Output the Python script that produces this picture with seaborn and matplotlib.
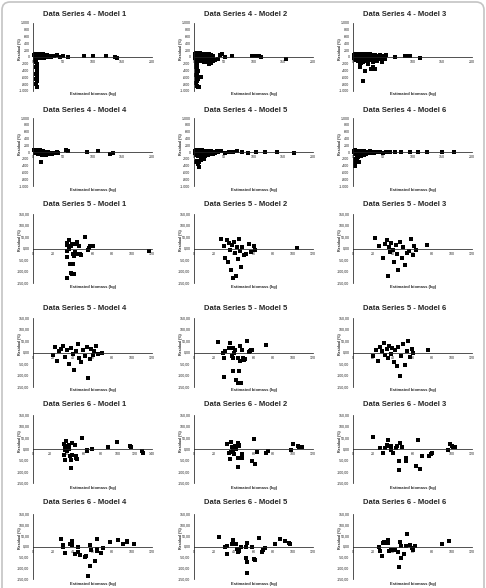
import matplotlib
matplotlib.use('Agg')
import matplotlib.pyplot as plt
import seaborn as sns
import pandas as pd
from matplotlib.patches import FancyBboxPatch
from matplotlib.transforms import IdentityTransform

# residuals: (estimated biomass kg, residual %)
s4m1 = [(2, 60), (3, 20), (3, -40), (4, 80), (4, -10), (5, 40), (5, 100), (5, -60), (6, 10), (6, 70),
        (6, -30), (7, 90), (7, 0), (7, 50), (8, 30), (8, -20), (8, 80), (9, 60), (9, 10), (10, 40),
        (10, 90), (11, -10), (11, 70), (12, 20), (12, 50), (13, 30), (14, 80), (15, 10), (16, 40), (17, 60),
        (18, 20), (19, 50), (20, 30), (22, 10), (24, 40), (26, 20), (28, 30), (30, 10), (12, -40), (15, -30),
        (18, -20), (20, -10), (4, -100), (5, -150), (6, -200), (7, -250), (5, -300), (6, -350), (7, -400),
        (6, -450), (5, -500), (6, -550), (7, -600), (6, -480), (5, -650), (6, -700), (5, -800), (6, -880),
        (3, 90), (4, 30), (9, -40), (10, 0), (13, 60), (14, 0), (16, 80), (21, 60), (23, 70), (25, 0),
        (35, 30), (40, 60), (45, 10), (50, 20), (58, 10), (85, 20), (100, 30), (122, 20), (138, -10), (142, -30)]
s4m2 = [(1, 50), (2, 90), (2, -20), (3, 40), (3, 110), (4, -50), (4, 70), (5, 20), (5, 100), (6, -80),
        (6, 50), (7, 0), (7, 90), (8, -40), (8, 60), (9, 20), (9, 100), (10, -60), (10, 40), (11, 80),
        (12, 0), (12, 60), (13, -30), (13, 90), (14, 30), (15, -70), (15, 70), (16, 10), (17, 50), (18, -20),
        (18, 90), (19, 40), (20, -50), (20, 70), (21, 10), (22, 60), (23, -10), (24, 40), (25, 80), (26, 20),
        (27, 50), (28, 0), (30, 30), (32, 20), (14, -120), (17, -100), (20, -130), (22, -150), (24, -100),
        (26, -200), (28, -180), (32, -120), (16, -160), (3, -120), (4, -180), (5, -240), (4, -300), (5, -360),
        (6, -420), (5, -480), (4, -540), (5, -600), (6, -650), (5, -700), (4, -760), (11, -600), (9, -580),
        (5, -850), (8, -870), (6, -880), (2, 20), (3, -60), (4, 0), (6, 100), (7, -110), (8, 10), (9, -90),
        (10, 110), (11, -20), (11, -100), (12, -80), (13, 40), (14, -40), (16, 90), (17, -50), (19, -90),
        (21, 90), (22, -60), (24, -30), (25, 40), (27, -80), (29, 60), (30, -60), (31, 0),
        (36, -100), (41, -50), (44, 50), (47, 100), (52, 0), (64, 20),
        (98, 30), (102, 40), (106, 30), (110, 30), (112, 10), (155, -50)]
s4m3 = [(1, 40), (2, -30), (3, 80), (4, 10), (5, -80), (5, 60), (6, -20), (7, 90), (8, 30), (8, -120),
        (9, -50), (10, 70), (11, 0), (12, -100), (12, 50), (13, -30), (14, 90), (15, 20), (16, -150), (16, 60),
        (17, -60), (18, 10), (19, 80), (20, -90), (20, 40), (21, -20), (22, 70), (23, -130), (24, 0), (25, 50),
        (26, -70), (27, 30), (28, -10), (29, 80), (30, -100), (31, 20), (32, -40), (33, 60), (34, -150),
        (35, 10), (36, -60), (38, 40), (39, -20), (40, -110), (42, 20), (44, -50), (46, 0), (48, 30),
        (50, -30), (11, -200), (14, -180), (25, -200), (2, 70), (4, -60), (6, 50), (9, 100), (10, -10),
        (13, 60), (15, -60), (18, -100), (19, 30), (22, -50), (24, 80), (27, -30), (30, 50), (33, -80),
        (37, 70), (41, 0), (45, 50),
        (11, -300), (17, -700), (20, -400), (31, -350),
        (34, -300), (37, -350), (48, -150), (54, -50), (56, 50), (70, 0), (87, 20), (92, 20), (95, 20),
        (113, -20)]
s4m4 = [(2, 60), (3, 20), (4, -40), (5, 70), (6, 0), (7, 40), (8, -70), (9, 30), (10, -20), (11, 60),
        (12, -50), (13, 10), (15, -80), (16, -30), (17, 40), (18, -60), (20, -40), (21, 10), (22, -90),
        (24, -60), (25, 0), (26, -40), (28, -50), (30, -30), (32, -60), (34, -20), (36, -40), (38, -30),
        (40, -10), (42, -20), (14, -300), (56, 50), (59, 20), (90, 0), (110, 30), (130, -50), (135, -20)]
s4m5 = [(1, 30), (2, -20), (3, 60), (4, -80), (5, 20), (6, -40), (6, 70), (7, -120), (8, 10), (9, -60),
        (10, 40), (11, -160), (12, -20), (13, 50), (14, -90), (15, 0), (16, -200), (17, 30), (18, -50),
        (19, -130), (20, 20), (21, -80), (22, 40), (23, -30), (24, -100), (25, 10), (26, -60), (28, 30),
        (30, -20), (32, -70), (34, 10), (36, -40), (38, 20), (40, -10), (5, -250), (4, -300), (8, -280),
        (6, -350), (9, -450), (12, -240), (45, 20), (52, -30), (58, 10), (65, -10), (72, 20), (80, 0),
        (90, -20), (105, 10), (120, -10), (140, 0), (168, -20)]
s4m6 = [(1, 40), (2, -10), (3, 50), (4, -60), (5, 20), (6, -100), (7, 30), (8, -40), (9, -150), (10, 10),
        (11, -70), (12, 40), (13, -20), (14, -120), (15, 20), (16, -60), (17, 0), (18, -90), (19, 30),
        (20, -30), (22, -60), (24, 10), (26, -40), (28, 20), (30, -20), (32, 10), (35, -30), (38, 0),
        (40, -10), (3, -200), (4, -250), (5, -300), (4, -350), (3, -400), (7, -220), (10, -280), (45, 10),
        (50, -20), (55, 0), (62, 10), (70, -10), (80, 0), (95, 10), (110, -10), (125, 0), (150, -10), (170, 0)]

s5m1 = [(34, 26), (36, 38), (34, 15), (38, 12), (39, 19), (34, -10), (36, -3), (34, -39), (37, -68),
        (40, -25), (41, -32), (42, -17), (43, 19), (40, -68), (38, -105), (39, -112), (41, -112), (34, -127),
        (44, 29), (46, 12), (45, -25), (47, -25), (48, -29), (52, 52), (55, -6), (56, 4), (57, 9), (61, 12),
        (117, -10)]
s5m2 = [(27, 40), (30, 10), (33, 35), (35, 22), (36, -5), (38, 15), (40, 30), (41, -20), (43, 8), (45, 40),
        (34, -60), (37, -95), (39, -130), (42, -120), (44, -45), (46, -10), (48, 5), (50, -30), (52, -25),
        (55, 20), (57, -15), (60, 12), (62, -5), (104, 2), (31, -40), (47, -80)]
s5m3 = [(22, 45), (26, 10), (30, -40), (32, 20), (34, 35), (36, 5), (37, -15), (38, 25), (40, -5),
        (41, -60), (43, 15), (44, -25), (45, -95), (47, 30), (49, -40), (50, 5), (52, -70), (54, -20),
        (56, -10), (58, 40), (60, -30), (62, 10), (64, -5), (75, 15), (35, -120)]
s5m4 = [(20, -10), (22, 25), (24, -35), (26, 5), (28, 15), (30, 30), (32, -20), (34, 10), (36, -50),
        (38, 20), (40, -5), (41, -75), (43, 5), (45, 35), (46, -25), (48, -40), (50, 10), (52, -15),
        (54, 25), (55, -110), (57, -30), (58, 15), (60, -10), (62, 5), (64, 30), (66, -5), (70, 0)]
s5m5 = [(24.5, 44), (29.7, 0), (31, 7), (30.7, -23), (34.8, 19), (36, 40), (37.5, 19), (39, 18), (38, -16),
        (39, -22), (41, 10), (40, -4), (39, -80), (42, -121), (44, -133), (47, -133), (45, -82), (44, -26),
        (46, -38), (46, 28), (48, 10), (49, -26), (50, -34), (51, -29), (53.5, 51), (55, 1), (56, 7),
        (57, 13), (58.6, 13), (30.7, -107), (73, 32)]
s5m6 = [(20, -15), (23, 10), (25, -35), (27, 25), (29, 5), (31, 40), (32, -10), (34, 15), (35, -25),
        (36, 30), (38, -5), (39, 20), (41, -40), (42, 10), (44, -60), (45, 25), (47, -100), (48, -15),
        (50, 35), (52, -55), (54, 5), (55, 50), (57, -20), (59, 15), (61, 0), (76, 10)]

s6m1 = [(37, 23), (39, 34), (38, 12), (40, 15), (42, 19), (38, -3), (40, -7), (42, 0), (37, -25), (38, -47),
        (44, -32), (45, -50), (45, -83), (46, -25), (46, 26), (49, 19), (50, -32), (51, -40), (52, -44),
        (58, 48), (63, -10), (64, -3), (69, 0), (88, 7), (99, 29), (114, 12), (115, 7), (128, -7), (129, -18)]
s6m2 = [(33.6, 23), (37, 33), (38, 11), (40, 9), (41.5, 14), (42, 0), (37, -14), (35, -17), (36, -43),
        (39.4, -3), (40, -20), (44, 28), (45, 18), (45.7, 14), (44, -38), (44, -78), (48, -24), (48, -38),
        (58, -53), (60, 43), (62, -67), (63.7, -14), (72.7, -17), (75, -11), (98, -3), (100, 23),
        (104.5, 14), (106, 11), (108.6, 9)]
s6m3 = [(20.4, 54), (27, 4), (30, -19), (32, 3), (35, 39), (34, 17), (36, 15), (38, 15), (38, -4), (40, -19),
        (43, 4), (44, 15), (46, -51), (46, -92), (47.6, 25), (49, 10), (53, -41), (53, -54), (63.6, -76),
        (66, 39), (68, -87), (70, -29), (77, -29), (79, -22), (80, -19), (96, -4), (98, 22), (99.7, 15),
        (101, 10), (103, 7)]
s6m4 = [(28, 34), (30, 9), (30.6, -3), (32, -30), (37, 12), (39, 15), (39.8, 27), (39.8, 9), (42.5, -36),
        (45, -25), (45, 0), (47.6, -40), (52, -48), (53, -45), (55.4, -135), (57.8, 9), (57.8, -90),
        (58.8, -15), (63, -67), (65, 34), (65, -10), (65, -21), (69, -30), (71, -6), (78, 19), (86, 30),
        (91, 12), (95, 19), (95, 24), (102, 12)]
s6m5 = [(25, 45), (31, -3), (33, 3), (33.4, -34), (39.7, 30), (38.6, 10), (40.7, 10), (42, 12), (43, -12),
        (45, -20), (44, -27), (47.6, -3), (52, -52), (52, -3), (53, 15), (53, -72), (53, -120), (58.6, -3),
        (60, -57), (62, -60), (66, 40), (69, -27), (70, -18), (72, -8), (82, 12), (87, 34), (92, 27),
        (96, 15), (96.5, 10)]
s6m6 = [(26, -3), (27, -22), (29, -45), (30, 15), (31.5, 19), (33, 15), (35, 30), (35, 15), (36, -21),
        (38, -15), (40, -18), (42.5, -18), (45, -25), (46, -93), (47, 19), (48, 4), (48.7, -51), (51, -33),
        (53, 4), (54.8, 57), (57, 7), (59, -6), (60, -15), (63, 4), (90, 12), (97, 27)]

titles = ["Data Series %d - Model %d" % (s, m) for s in (4, 5, 6) for m in range(1, 7)]
datasets = [s4m1, s4m2, s4m3, s4m4, s4m5, s4m6,
            s5m1, s5m2, s5m3, s5m4, s5m5, s5m6,
            s6m1, s6m2, s6m3, s6m4, s6m5, s6m6]
x_max = [200] * 6 + [120] * 6 + [140, 120, 120, 120, 120, 120]
x_step = [50] * 6 + [20] * 12

ticks4 = list(range(-1000, 1001, 200))
labels4 = [("-" if v < 0 else "") + format(abs(v), ",").replace(",", ".") for v in ticks4]
ticks56 = list(range(-150, 151, 50))
labels56 = [("%.2f" % v).replace(".", ",") for v in ticks56]

W, H = 486, 588
col_left = [33, 194, 353]
ax_w = 119
rows = [(23, 91), (118, 186), (214, 283), (318, 387), (415, 483), (514, 579)]
title_y = [15, 110, 205, 308, 405, 503]
xlab_y = [94, 190, 287, 390, 488, 584]

sns.set_style("white")
plt.rcParams['font.family'] = ['Liberation Sans', 'DejaVu Sans']

fig = plt.figure(figsize=(W / 100, H / 100), dpi=100)

for i, pts in enumerate(datasets):
    r, c = i // 3, i % 3
    # the 18 panels go model 1..6 across rows of three
    top, bot = rows[r]
    left = col_left[c]
    ax = fig.add_axes([left / W, 1 - bot / H, ax_w / W, (bot - top) / H])
    df = pd.DataFrame(pts, columns=["biomass", "residual"])
    sns.scatterplot(data=df, x="biomass", y="residual", ax=ax, color="black",
                    marker="s", s=5, linewidth=0, legend=False, clip_on=False)
    ax.set_xlim(0, x_max[i])
    ax.set_xticks(range(0, x_max[i] + 1, x_step[i]))
    if i < 6:
        ax.set_ylim(-1000, 1000)
        ax.set_yticks(ticks4)
        ax.set_yticklabels(labels4)
    else:
        ax.set_ylim(-150, 150)
        ax.set_yticks(ticks56)
        ax.set_yticklabels(labels56)
    ax.set_xlabel("")
    ax.set_ylabel("")
    ax.spines['bottom'].set_position(('data', 0))
    ax.spines['top'].set_visible(False)
    ax.spines['right'].set_visible(False)
    for sp in ('left', 'bottom'):
        ax.spines[sp].set_linewidth(0.55)
        ax.spines[sp].set_color('#222222')
    ax.tick_params(labelsize=2.6, length=1.5, width=0.4, pad=1, colors='#222222')
    ax.patch.set_alpha(0)

    fig.text((left + 52) / W, 1 - title_y[r] / H, titles[i], ha='center', va='center',
             fontsize=5.5, fontweight='bold')
    fig.text((left + 60) / W, 1 - xlab_y[r] / H, "Estimated biomass (kg)", ha='center',
             va='center', fontsize=3.0, fontweight='bold')
    fig.text((left - 13) / W, 1 - ((top + bot) / 2 - 8) / H, "Residual (%)", ha='center',
             va='center', rotation=90, fontsize=2.6, fontweight='bold')

frame = FancyBboxPatch((2, -20), 482, 606, boxstyle="round,pad=0,rounding_size=8",
                       transform=IdentityTransform(), fill=False, edgecolor='#c4c4c4', linewidth=1.2)
fig.add_artist(frame)

fig.savefig("out.png", dpi=100)
